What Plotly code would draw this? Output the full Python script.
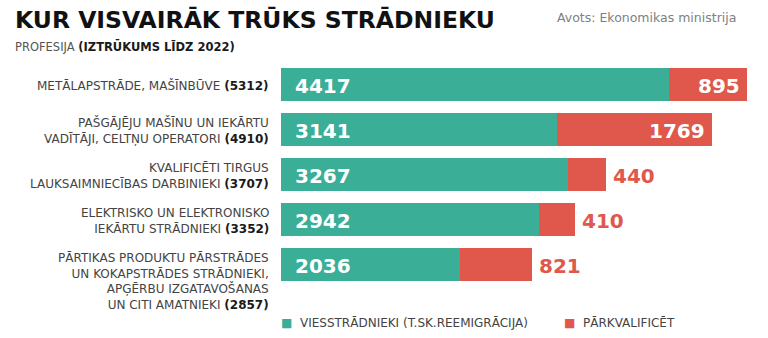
import plotly.graph_objects as go

# Professions (top to bottom) and the two components of the shortage
professions = [
    "METĀLAPSTRĀDE, MAŠĪNBŪVE",
    "PAŠGĀJĒJU MAŠĪNU UN IEKĀRTU<br>VADĪTĀJI, CELTŅU OPERATORI",
    "KVALIFICĒTI TIRGUS<br>LAUKSAIMNIECĪBAS DARBINIEKI",
    "ELEKTRISKO UN ELEKTRONISKO<br>IEKĀRTU STRĀDNIEKI",
    "PĀRTIKAS PRODUKTU PĀRSTRĀDES<br>UN KOKAPSTRĀDES STRĀDNIEKI,<br>APĢĒRBU IZGATAVOŠANAS<br>UN CITI AMATNIEKI",
]
viesstradnieki = [4417, 3141, 3267, 2942, 2036]
parkvalificet = [895, 1769, 440, 410, 821]
series_names = ["VIESSTRĀDNIEKI (T.SK.REEMIGRĀCIJA)", "PĀRKVALIFICĒT"]

title_text = "KUR VISVAIRĀK TRŪKS STRĀDNIEKU"
subtitle_regular = "PROFESIJA "
subtitle_bold = "(IZTRŪKUMS LĪDZ 2022)"
source_text = "Avots: Ekonomikas ministrija"

totals = [a + b for a, b in zip(viesstradnieki, parkvalificet)]

GREEN = "#3aae97"
RED = "#e0574b"
FONT = "DejaVu Sans"
W, H = 768, 338
ML, MR, MT, MB = 281, 0, 62, 51
PW = W - ML - MR


def px_x(px):
    """Convert a pixel x position to paper coordinates."""
    return (px - ML) / PW


def px_y(py):
    """Convert a pixel y position (from top) to paper coordinates."""
    return 1 - (py - MT) / (H - MT - MB)


fig = go.Figure()
fig.add_trace(go.Bar(
    y=professions, x=viesstradnieki, orientation="h", name=series_names[0],
    marker=dict(color=GREEN, line=dict(width=0)), showlegend=False,
    hoverinfo="x+y",
))
fig.add_trace(go.Bar(
    y=professions, x=parkvalificet, orientation="h", name=series_names[1],
    marker=dict(color=RED, line=dict(width=0)), showlegend=False,
    hoverinfo="x+y",
))

annotations = []

# Value labels: green share at the start of each bar
for prof, v in zip(professions, viesstradnieki):
    annotations.append(dict(
        x=0, y=prof, xref="x", yref="y", text=f"<b>{v}</b>", showarrow=False,
        xanchor="left", yanchor="middle", xshift=12, yshift=-1,
        font=dict(family=FONT, size=20, color="white"),
    ))

# Red share: inside the bar end when wide enough, otherwise just after it
red_inside = [True, True, False, False, False]
for prof, v, tot, inside in zip(professions, parkvalificet, totals, red_inside):
    annotations.append(dict(
        x=tot, y=prof, xref="x", yref="y", text=f"<b>{v}</b>", showarrow=False,
        xanchor="right" if inside else "left", yanchor="middle",
        xshift=-5 if inside else 5, yshift=-1,
        font=dict(family=FONT, size=20, color="white" if inside else RED),
    ))

# Category labels with the total in bold
for prof, tot in zip(professions, totals):
    multi = prof.count("<br>") >= 3
    annotations.append(dict(
        x=0, y=prof, xref="paper", yref="y",
        text=f"{prof} <b style='color:#1a1a1a'>({tot})</b>",
        showarrow=False, xanchor="right", align="right",
        yanchor="top" if multi else "middle",
        xshift=-10, yshift=16 if multi else -1,
        font=dict(family=FONT, size=12, color="#444444"),
    ))

# Title, subtitle and source
annotations.append(dict(
    x=px_x(13), y=px_y(20), xref="paper", yref="paper", text=f"<b>{title_text}</b>",
    showarrow=False, xanchor="left", yanchor="middle",
    font=dict(family=FONT, size=23.5, color="#111111"),
))
annotations.append(dict(
    x=px_x(13), y=px_y(46), xref="paper", yref="paper",
    text=f"{subtitle_regular}<b style='color:#1a1a1a'>{subtitle_bold}</b>",
    showarrow=False, xanchor="left", yanchor="middle",
    font=dict(family=FONT, size=11.5, color="#555555"),
))
annotations.append(dict(
    x=px_x(555), y=px_y(17), xref="paper", yref="paper", text=source_text,
    showarrow=False, xanchor="left", yanchor="middle",
    font=dict(family=FONT, size=12.5, color="#808080"),
))

# Legend drawn as a text row under the bars
legend_x = [279, 562]
for name, color, lx in zip(series_names, [GREEN, RED], legend_x):
    annotations.append(dict(
        x=px_x(lx), y=px_y(323), xref="paper", yref="paper",
        text=f"<span style='color:{color}'>■</span>  {name}",
        showarrow=False, xanchor="left", yanchor="middle",
        font=dict(family=FONT, size=12, color="#444444"),
    ))

fig.update_layout(
    width=W, height=H,
    margin=dict(l=ML, r=MR, t=MT, b=MB, pad=0),
    barmode="stack", bargap=0.245,
    paper_bgcolor="white", plot_bgcolor="white",
    xaxis=dict(range=[0, PW / 0.08773], visible=False, fixedrange=True),
    yaxis=dict(type="category", categoryorder="array", categoryarray=professions,
               autorange="reversed", showticklabels=False, showgrid=False,
               zeroline=False, fixedrange=True),
    annotations=annotations,
    showlegend=False,
)

fig.write_html("out.html")
